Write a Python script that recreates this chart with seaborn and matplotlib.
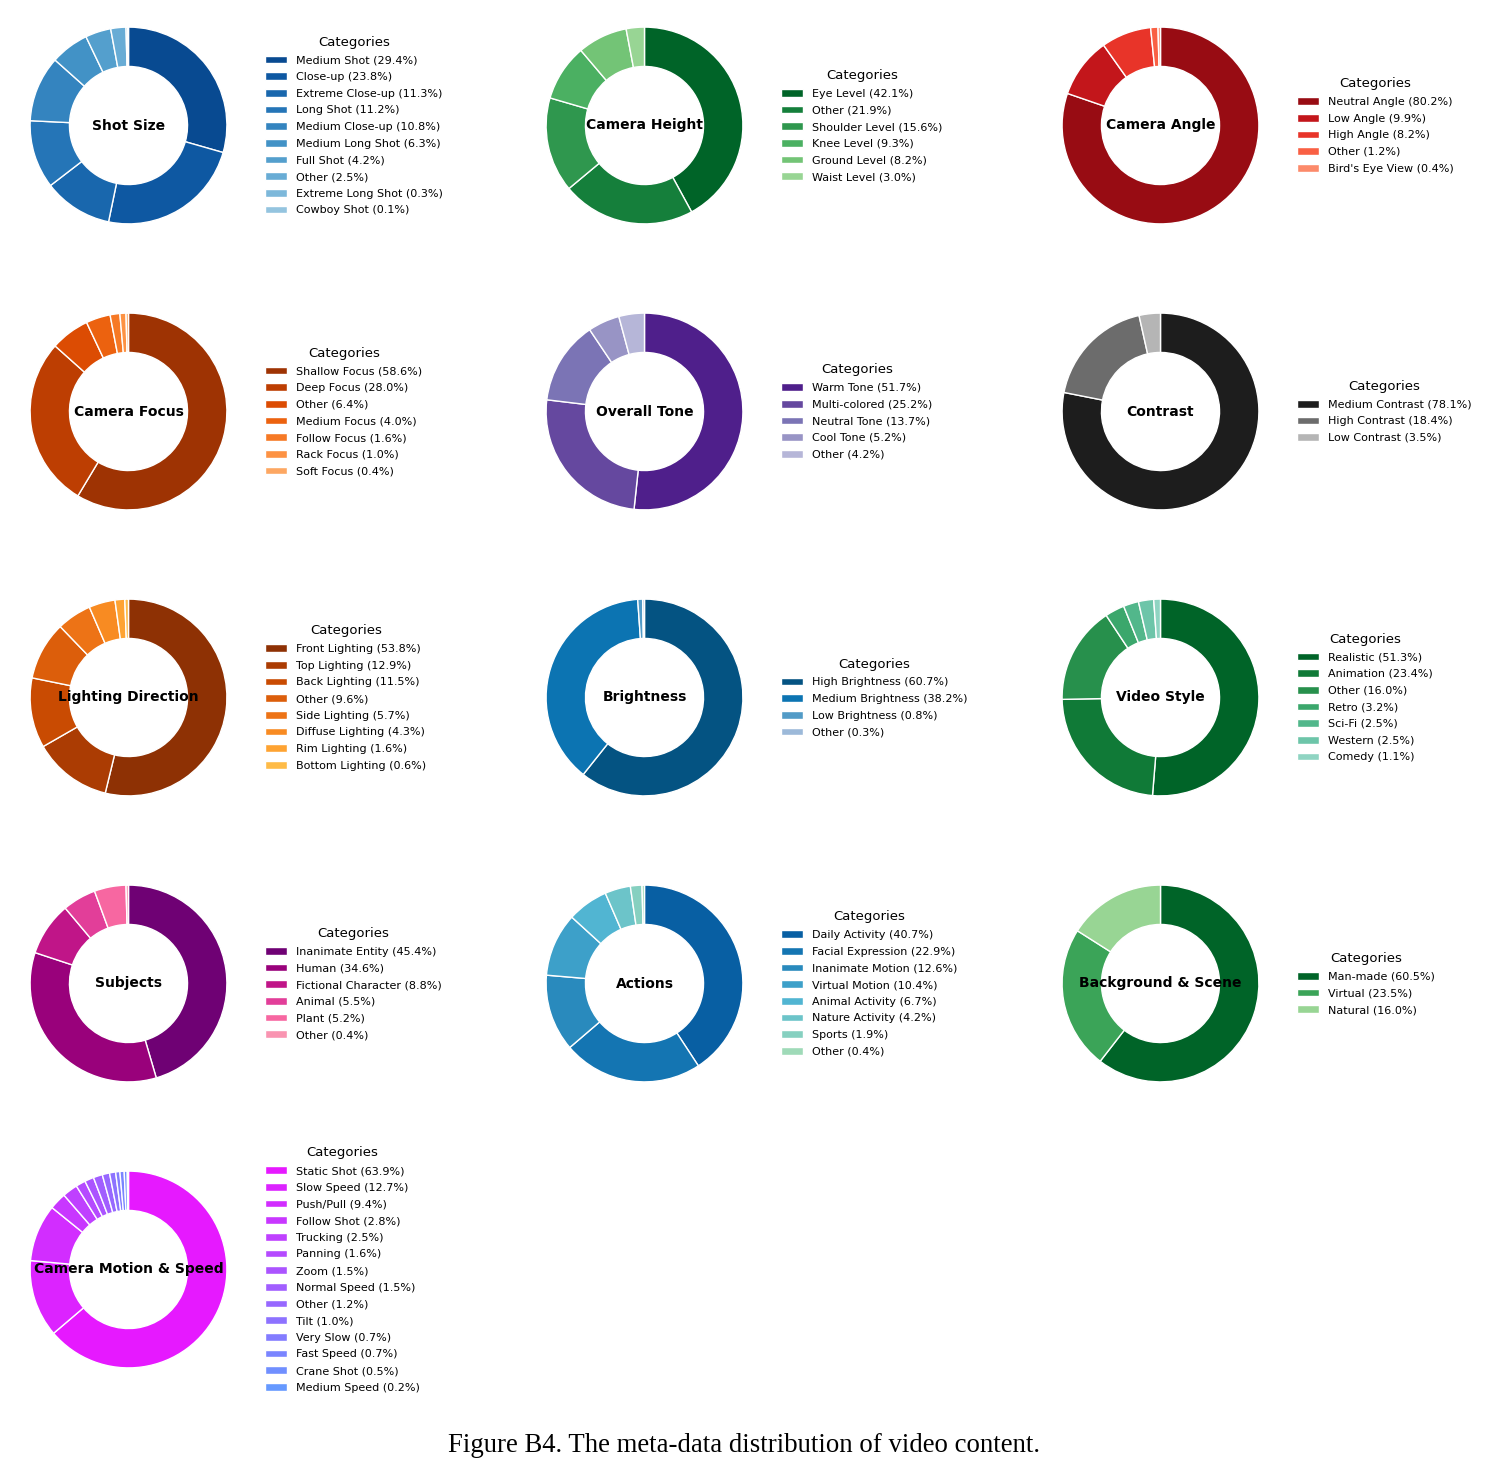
import numpy as np
import seaborn as sns
import matplotlib.pyplot as plt

sns.set_style("white")
plt.rcParams['font.family'] = ['DejaVu Sans']
plt.rcParams['text.color'] = 'black'

# data (percent of videos per category)
shot_size_labels = ["Medium Shot", "Close-up", "Extreme Close-up", "Long Shot", "Medium Close-up",
                    "Medium Long Shot", "Full Shot", "Other", "Extreme Long Shot", "Cowboy Shot"]
shot_size_vals = [29.4, 23.8, 11.3, 11.2, 10.8, 6.3, 4.2, 2.5, 0.3, 0.1]

cam_height_labels = ["Eye Level", "Other", "Shoulder Level", "Knee Level", "Ground Level", "Waist Level"]
cam_height_vals = [42.1, 21.9, 15.6, 9.3, 8.2, 3.0]

cam_angle_labels = ["Neutral Angle", "Low Angle", "High Angle", "Other", "Bird's Eye View"]
cam_angle_vals = [80.2, 9.9, 8.2, 1.2, 0.4]

cam_focus_labels = ["Shallow Focus", "Deep Focus", "Other", "Medium Focus", "Follow Focus",
                    "Rack Focus", "Soft Focus"]
cam_focus_vals = [58.6, 28.0, 6.4, 4.0, 1.6, 1.0, 0.4]

tone_labels = ["Warm Tone", "Multi-colored", "Neutral Tone", "Cool Tone", "Other"]
tone_vals = [51.7, 25.2, 13.7, 5.2, 4.2]

contrast_labels = ["Medium Contrast", "High Contrast", "Low Contrast"]
contrast_vals = [78.1, 18.4, 3.5]

lighting_labels = ["Front Lighting", "Top Lighting", "Back Lighting", "Other", "Side Lighting",
                   "Diffuse Lighting", "Rim Lighting", "Bottom Lighting"]
lighting_vals = [53.8, 12.9, 11.5, 9.6, 5.7, 4.3, 1.6, 0.6]

bright_labels = ["High Brightness", "Medium Brightness", "Low Brightness", "Other"]
bright_vals = [60.7, 38.2, 0.8, 0.3]

style_labels = ["Realistic", "Animation", "Other", "Retro", "Sci-Fi", "Western", "Comedy"]
style_vals = [51.3, 23.4, 16.0, 3.2, 2.5, 2.5, 1.1]

subj_labels = ["Inanimate Entity", "Human", "Fictional Character", "Animal", "Plant", "Other"]
subj_vals = [45.4, 34.6, 8.8, 5.5, 5.2, 0.4]

action_labels = ["Daily Activity", "Facial Expression", "Inanimate Motion", "Virtual Motion",
                 "Animal Activity", "Nature Activity", "Sports", "Other"]
action_vals = [40.7, 22.9, 12.6, 10.4, 6.7, 4.2, 1.9, 0.4]

scene_labels = ["Man-made", "Virtual", "Natural"]
scene_vals = [60.5, 23.5, 16.0]

motion_labels = ["Static Shot", "Slow Speed", "Push/Pull", "Follow Shot", "Trucking", "Panning",
                 "Zoom", "Normal Speed", "Other", "Tilt", "Very Slow", "Fast Speed",
                 "Crane Shot", "Medium Speed"]
motion_vals = [63.9, 12.7, 9.4, 2.8, 2.5, 1.6, 1.5, 1.5, 1.2, 1.0, 0.7, 0.7, 0.5, 0.2]

panels = [
    ("Shot Size", shot_size_labels, shot_size_vals, "Blues"),
    ("Camera Height", cam_height_labels, cam_height_vals, "Greens"),
    ("Camera Angle", cam_angle_labels, cam_angle_vals, "Reds"),
    ("Camera Focus", cam_focus_labels, cam_focus_vals, "Oranges"),
    ("Overall Tone", tone_labels, tone_vals, "Purples"),
    ("Contrast", contrast_labels, contrast_vals, "Greys"),
    ("Lighting Direction", lighting_labels, lighting_vals, "YlOrBr"),
    ("Brightness", bright_labels, bright_vals, "PuBu"),
    ("Video Style", style_labels, style_vals, "BuGn"),
    ("Subjects", subj_labels, subj_vals, "RdPu"),
    ("Actions", action_labels, action_vals, "GnBu"),
    ("Background & Scene", scene_labels, scene_vals, "Greens"),
    ("Camera Motion & Speed", motion_labels, motion_vals, "cool"),
]

W, H = 1488, 1476
fig = plt.figure(figsize=(W / 100, H / 100), dpi=100)

col_x = [128.5, 644.5, 1160.5]
row_y = [125.5, 411.5, 697.5, 983.5, 1269.5]
box = 246  # pie radius 1 -> box/2.5 px

for i, (name, labels, vals, cmap_name) in enumerate(panels):
    cx, cy = col_x[i % 3], row_y[i // 3]
    ax = fig.add_axes([(cx - box / 2) / W, 1 - (cy + box / 2) / H, box / W, box / H])
    cmap = sns.color_palette(cmap_name, as_cmap=True)
    colors = cmap(np.linspace(0.9, 0.4, len(vals)))
    wedges, _ = ax.pie(vals, colors=colors, startangle=90, counterclock=False,
                       wedgeprops=dict(width=0.4, edgecolor="white", linewidth=1))
    ax.set_aspect("equal")
    ax.text(0, 0, name, ha="center", va="center", fontsize=10, fontweight="bold", color="black")
    leg_labels = [f"{l} ({v:.1f}%)" for l, v in zip(labels, vals)]
    ax.legend(wedges, leg_labels, title="Categories", loc="center left",
              bbox_to_anchor=(1.015, 0.5), frameon=False, fontsize=8, title_fontsize=9.5,
              labelspacing=0.6)

fig.text(0.5, 1 - 1446 / H, "Figure B4. The meta-data distribution of video content.",
         ha="center", va="center", fontsize=19.3, family=["Liberation Serif"])

fig.savefig("out.png", dpi=100)
